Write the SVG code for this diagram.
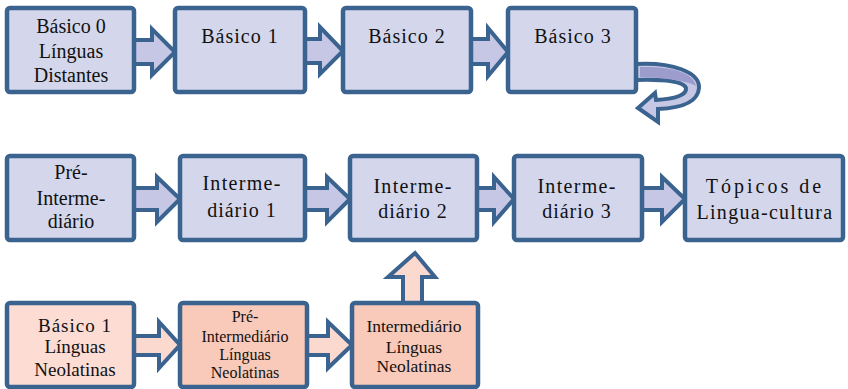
<svg xmlns="http://www.w3.org/2000/svg" width="848" height="389" viewBox="0 0 848 389">
<style>
.box{fill:#d4d7ec;stroke:#3a6390;stroke-width:4.5}
.pk1{fill:#fcdcd3;stroke:#3a6390;stroke-width:4.5}
.pk2{fill:#f9c9b9;stroke:#3a6390;stroke-width:4.5}
.arr{fill:#c6c7e5;stroke:#3a6390;stroke-width:4;stroke-linejoin:miter}
.arrp{fill:#fcd9cf;stroke:#3a6390;stroke-width:4;stroke-linejoin:miter}
.s16{font-size:16px}
.s17{font-size:17.5px}
.s19{font-size:19px}
</style>
<rect width="848" height="389" fill="#fff"/>
<g id="connectors">
<polygon class="arr" points="134,40 152,40 152,29 175,52 152,75 152,64 134,64"/>
<polygon class="arr" points="305,39 320,39 320,27 343,51 320,74 320,63 305,63"/>
<polygon class="arr" points="471,39 488,39 488,28 508,52 488,76 488,64 471,64"/>
<path class="arr" d="M636,64 C672,62 700,72 699,88 C698,102 682,108 658,109 L658,122 L638,108 L655,93 L656,100 C675,99 687,95 686,88 C684,82 666,79 636,80 Z"/>
<path d="M640,67 C672,66 694,73 696,86 C690,82 670,78 640,77 Z" fill="#9c9ccd"/>
<polygon class="arr" points="134,188 157,188 157,177 180,199 157,222 157,210 134,210"/>
<polygon class="arr" points="305,188 327,188 327,177 350,199 327,222 327,210 305,210"/>
<polygon class="arr" points="477,188 494,188 494,177 514,199 494,222 494,210 477,210"/>
<polygon class="arr" points="642,188 662,188 662,177 685,199 662,222 662,210 642,210"/>
<polygon class="arrp" points="134,336 159,336 159,322 180,345 159,368 159,355 134,355"/>
<polygon class="arrp" points="307,336 328,336 328,322 352,345 328,368 328,355 307,355"/>
<polygon class="arrp" points="403,303 403,277 388,277 415,253 435,277 422,277 422,303"/>
</g>
<g font-family="Liberation Serif, Times New Roman, serif" font-size="20" fill="#111" text-anchor="middle">
<g id="b0"><rect class="box" x="7" y="8" width="127" height="84" rx="3"/>
<text x="71" y="33">Básico 0</text><text x="71" y="58">Línguas</text><text x="71" y="82">Distantes</text></g>
<g id="b1"><rect class="box" x="175" y="8" width="130" height="84" rx="3"/>
<text x="240" y="43" letter-spacing="1">Básico 1</text></g>
<g id="b2"><rect class="box" x="343" y="8" width="128" height="84" rx="3"/>
<text x="407" y="43" letter-spacing="1">Básico 2</text></g>
<g id="b3"><rect class="box" x="508" y="8" width="128" height="84" rx="3"/>
<text x="573" y="43" letter-spacing="1">Básico 3</text></g>
<g id="pi"><rect class="box" x="7" y="156" width="127" height="84" rx="3"/>
<text x="71" y="179">Pré-</text><text x="71" y="205">Interme-</text><text x="71" y="228">diário</text></g>
<g id="i1"><rect class="box" x="180" y="156" width="125" height="84" rx="3"/>
<text x="242" y="190" letter-spacing="1.3">Interme-</text><text x="242" y="217" letter-spacing="1">diário 1</text></g>
<g id="i2"><rect class="box" x="350" y="156" width="127" height="84" rx="3"/>
<text x="413" y="193" letter-spacing="1.3">Interme-</text><text x="413" y="218" letter-spacing="1">diário 2</text></g>
<g id="i3"><rect class="box" x="514" y="156" width="128" height="84" rx="3"/>
<text x="577" y="193" letter-spacing="1.3">Interme-</text><text x="577" y="218" letter-spacing="1">diário 3</text></g>
<g id="tl"><rect class="box" x="685" y="156" width="158" height="84" rx="3"/>
<text x="765" y="193" letter-spacing="3">Tópicos de</text><text x="765" y="219" letter-spacing="1.3">Lingua-cultura</text></g>
<g id="bn"><rect class="pk1" x="7" y="303" width="127" height="84" rx="3"/>
<text class="s19" x="75" y="332" letter-spacing="1">Básico 1</text><text class="s19" x="75" y="353">Línguas</text><text class="s19" x="75" y="376">Neolatinas</text></g>
<g id="pn"><rect class="pk2" x="180" y="303" width="127" height="84" rx="3"/>
<text class="s16" x="245" y="322">Pré-</text><text class="s16" x="245" y="342">Intermediário</text><text class="s16" x="245" y="360">Línguas</text><text class="s16" x="245" y="378">Neolatinas</text></g>
<g id="in"><rect class="pk2" x="352" y="303" width="126" height="84" rx="3"/>
<text class="s17" x="414" y="332">Intermediário</text><text class="s17" x="414" y="353">Línguas</text><text class="s17" x="414" y="372">Neolatinas</text></g>
</g>
</svg>
